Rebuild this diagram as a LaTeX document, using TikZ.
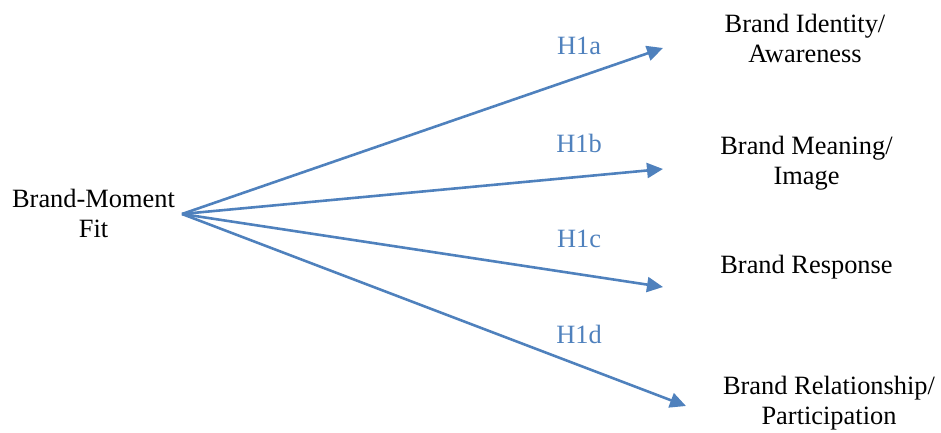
\documentclass[tikz,border=0pt]{standalone}
\usepackage{fontspec}
\setmainfont{Liberation Serif}
\usetikzlibrary{arrows.meta}
\definecolor{hypblue}{HTML}{4F81BD}

\tikzset{
    hyp/.style = {draw = hypblue, line width = 2.6pt, -{Triangle[length = 16pt, width = 15pt]}},
    hyplabel/.style = {text = hypblue, anchor = base, inner sep = 0pt},
    construct/.style = {align = center, anchor = base, inner sep = 0pt}
}

\begin{document}
\begin{tikzpicture}[x = 1pt, y = -1pt, font = \fontsize{26.4}{30}\selectfont]
            \useasboundingbox (0,0) rectangle (941,433);

            % constructs (base = last line)
            \node[construct] (fit) at (93.5,237) {Brand-Moment\\Fit};
            \node[construct] (identity) at (805,63) {Brand Identity/\\Awareness};
            \node[construct] (meaning) at (806.5,184) {Brand Meaning/\\Image};
            \node[construct] (response) at (806.5,273) {Brand Response};
            \node[construct] (relation) at (829,424) {Brand Relationship/\\Participation};

            % arrow ends
            \coordinate (src) at (182,214);
            \coordinate (tipa) at (663,48);
            \coordinate (tipb) at (663,169);
            \coordinate (tipc) at (663,287);
            \coordinate (tipd) at (686,406);

            \draw [hyp] (src) -- (tipa);
            \draw [hyp] (src) -- (tipb);
            \draw [hyp] (src) -- (tipc);
            \draw [hyp] (src) -- (tipd);

            % hypotheses
            \node[hyplabel] (h1a) at (579,55) {H1a};
            \node[hyplabel] (h1b) at (579,152) {H1b};
            \node[hyplabel] (h1c) at (579,247) {H1c};
            \node[hyplabel] (h1d) at (579,343) {H1d};
\end{tikzpicture}
\end{document}
